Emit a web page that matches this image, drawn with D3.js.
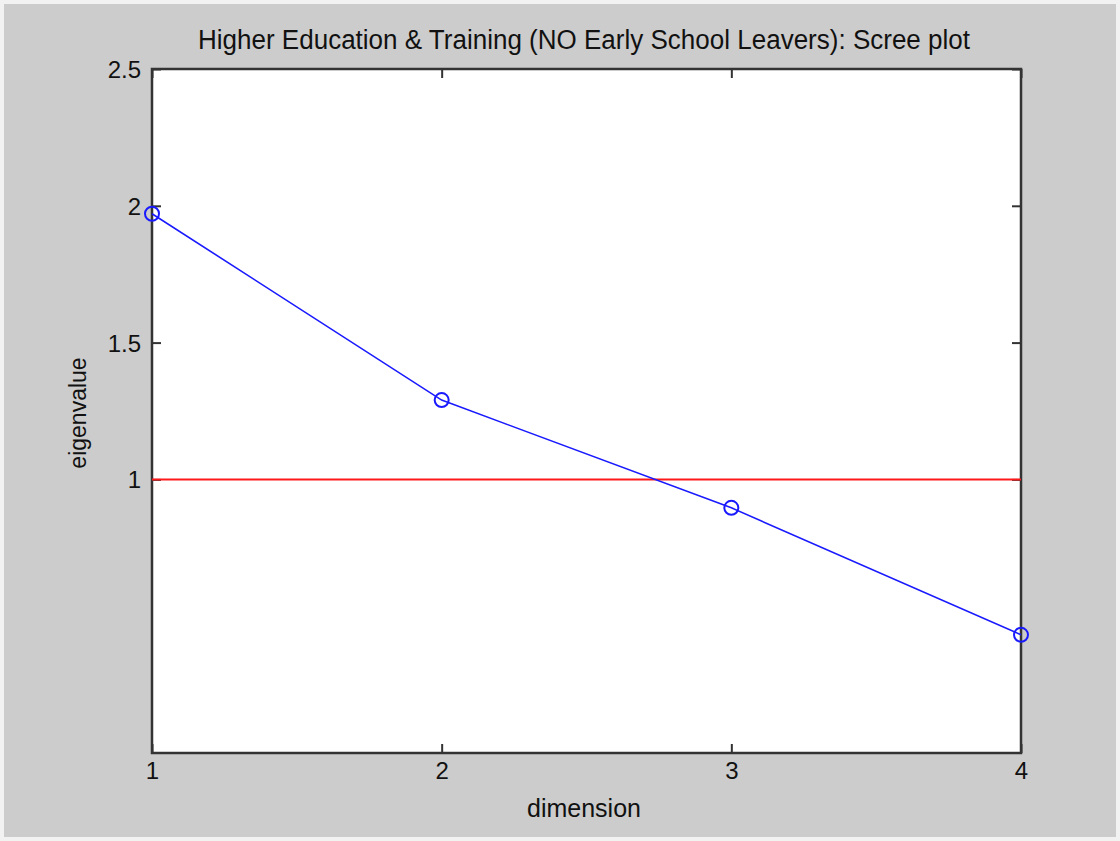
<!DOCTYPE html>
<html><head><meta charset="utf-8">
<script src="https://cdn.jsdelivr.net/npm/d3@7"></script>
<style>html,body{margin:0;padding:0;background:#fff;}</style>
</head><body>
<svg id="chart" width="1120" height="841"></svg>
<script>
const dimensions = [1, 2, 3, 4];
const eigenvalues = [1.971, 1.290, 0.896, 0.432];
const threshold = 1;
const xTicks = [1, 2, 3, 4];
const yTicks = [1, 1.5, 2, 2.5];
const titleText = "Higher Education & Training (NO Early School Leavers): Scree plot";
const xLabel = "dimension";
const yLabel = "eigenvalue";

const svg = d3.select("#chart");
const W = 1120, H = 841;
svg.append("rect").attr("x",0).attr("y",0).attr("width",W).attr("height",H).attr("fill","#f2f2f2");
svg.append("rect").attr("x",4).attr("y",4).attr("width",W-8).attr("height",H-8).attr("fill","#cccccc");

const L = 152, R = 1021, T = 69, B = 753;
const x = d3.scaleLinear().domain([1,4]).range([L,R]);
const y = d3.scaleLinear().domain([0,2.5]).range([B,T]);

svg.append("rect").attr("x",L).attr("y",T).attr("width",R-L).attr("height",B-T).attr("fill","#ffffff");

const font = "'Liberation Sans', Arial, sans-serif";
const tickLen = 9;
const axB = svg.append("g").attr("transform",`translate(0,${B})`)
  .call(d3.axisBottom(x).tickValues(xTicks).tickFormat(d3.format("d")).tickSizeInner(-tickLen).tickSizeOuter(0).tickPadding(12));
const axT = svg.append("g").attr("transform",`translate(0,${T})`)
  .call(d3.axisTop(x).tickValues(xTicks).tickFormat("").tickSizeInner(-tickLen).tickSizeOuter(0));
const axL = svg.append("g").attr("transform",`translate(${L},0)`)
  .call(d3.axisLeft(y).tickValues(yTicks).tickFormat(d => d3.format("")(d)).tickSizeInner(-tickLen).tickSizeOuter(0).tickPadding(11));
const axR = svg.append("g").attr("transform",`translate(${R},0)`)
  .call(d3.axisRight(y).tickValues(yTicks).tickFormat("").tickSizeInner(-tickLen).tickSizeOuter(0));
[axB,axT,axL,axR].forEach(g => {
  g.attr("font-size",null).attr("font-family",null);
  g.select(".domain").remove();
  g.selectAll(".tick line").attr("stroke","#333").attr("stroke-width",2);
  g.selectAll("text").style("font-family",font).style("font-size","24px").attr("fill","#111");
});
axB.selectAll("text").attr("dy","0.6em");
axL.selectAll("text").attr("dy","0.35em");

svg.append("rect").attr("x",L).attr("y",T).attr("width",R-L).attr("height",B-T)
  .attr("fill","none").attr("stroke","#333").attr("stroke-width",2.5);

svg.append("line").attr("x1",x(1)).attr("x2",x(4)).attr("y1",y(threshold)).attr("y2",y(threshold))
  .attr("stroke","#ff1a1a").attr("stroke-width",2);

const pts = dimensions.map((d,i)=>[d, eigenvalues[i]]);
svg.append("path").datum(pts)
  .attr("d", d3.line().x(d=>x(d[0])).y(d=>y(d[1])))
  .attr("fill","none").attr("stroke","#1a1aff").attr("stroke-width",1.6);
svg.selectAll("circle.m").data(pts).join("circle").attr("class","m")
  .attr("cx",d=>x(d[0])).attr("cy",d=>y(d[1])).attr("r",7)
  .attr("fill","none").attr("stroke","#1a1aff").attr("stroke-width",2);

svg.append("text").attr("x",584).attr("y",49).attr("text-anchor","middle")
  .style("font-family",font).style("font-size","27px").attr("fill","#111")
  .attr("textLength",772).attr("lengthAdjust","spacingAndGlyphs").text(titleText);
svg.append("text").attr("x",584).attr("y",817).attr("text-anchor","middle")
  .style("font-family",font).style("font-size","25px").attr("fill","#111").text(xLabel);
svg.append("text").attr("transform","translate(86,413) rotate(-90)").attr("text-anchor","middle")
  .style("font-family",font).style("font-size","23px").attr("fill","#111").text(yLabel);
</script>
</body></html>
